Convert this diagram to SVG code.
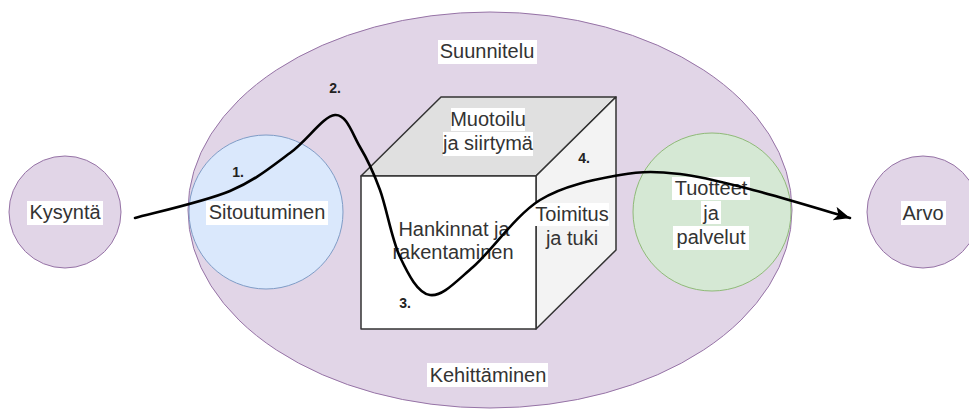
<svg xmlns="http://www.w3.org/2000/svg" width="969" height="412" viewBox="0 0 969 412">
<defs>
<style>
.purple{fill:#e1d5e7;stroke:#9673a6;stroke-width:1}
.blue{fill:#dae8fc;stroke:#7f9cc6;stroke-width:1}
.green{fill:#d5e8d4;stroke:#8fba78;stroke-width:1}
.cube{stroke:#333333;stroke-width:1.5;stroke-linejoin:round}
.t{font-family:"Liberation Sans",Arial,sans-serif;font-size:20px;fill:#333333;text-anchor:middle}
.n{font-family:"Liberation Sans",Arial,sans-serif;font-size:14px;font-weight:bold;fill:#222222;text-anchor:middle}
.bg{fill:#ffffff}
.flow{fill:none;stroke:#000000;stroke-width:2.6;stroke-linecap:round}
</style>
<marker id="arrow" markerUnits="userSpaceOnUse" markerWidth="18" markerHeight="16" refX="16" refY="7" orient="auto">
<path d="M0,0 L16,7 L0,14 L4,7 Z" fill="#000000"/>
</marker>
</defs>
<rect width="969" height="412" fill="#ffffff"/>

<g id="outer">
<ellipse class="purple" cx="490" cy="210" rx="302" ry="198"/>
<rect class="bg" x="438" y="40" width="99" height="24"/>
<text class="t" x="487" y="58">Suunnitelu</text>
<rect class="bg" x="427" y="363" width="121" height="24"/>
<text class="t" x="488" y="382">Kehittäminen</text>
</g>

<g id="kysynta">
<circle class="purple" cx="65" cy="212" r="56"/>
<rect class="bg" x="27" y="201" width="76" height="24"/>
<text class="t" x="65" y="219">Kysyntä</text>
</g>

<g id="sitoutuminen">
<circle class="blue" cx="266" cy="212" r="77"/>
<rect class="bg" x="206" y="201" width="122" height="24"/>
<text class="t" x="267" y="219">Sitoutuminen</text>
</g>

<g id="tuotteet">
<circle class="green" cx="712" cy="212" r="79"/>
<rect class="bg" x="672" y="177" width="78" height="23"/>
<text class="t" x="711" y="195">Tuotteet</text>
<rect class="bg" x="701" y="201" width="20" height="23"/>
<text class="t" x="711" y="219.5">ja</text>
<rect class="bg" x="673" y="226" width="76" height="24"/>
<text class="t" x="711" y="244">palvelut</text>
</g>

<g id="arvo">
<circle class="purple" cx="923" cy="212" r="56"/>
<rect class="bg" x="901" y="201" width="45" height="24"/>
<text class="t" x="923" y="220">Arvo</text>
</g>

<g id="cube">
<polygon class="cube" fill="#e0e0e0" points="361,176 441,97 616,97 536,176"/>
<polygon class="cube" fill="#f3f3f3" points="536,176 616,97 616,250 536,329"/>
<rect class="cube" fill="#ffffff" x="361" y="176" width="175" height="153"/>
<rect class="bg" x="451" y="108" width="74" height="23"/>
<text class="t" x="488" y="126">Muotoilu</text>
<rect class="bg" x="443" y="132" width="90" height="24"/>
<text class="t" x="488" y="150">ja siirtymä</text>
<text class="t" x="454" y="236">Hankinnat ja</text>
<text class="t" x="453" y="259">rakentaminen</text>
<rect class="bg" x="535" y="203" width="74" height="23"/>
<text class="t" x="572" y="221">Toimitus</text>
<text class="t" x="572" y="245">ja tuki</text>
</g>

<g id="numbers">
<text class="n" x="238" y="177">1.</text>
<text class="n" x="335" y="93">2.</text>
<text class="n" x="405" y="308">3.</text>
<text class="n" x="584" y="163">4.</text>
</g>

<g id="connectors">
<path class="flow" marker-end="url(#arrow)" d="M135,218 C150.8,213.5 204.2,201.8 230,191 C255.8,180.2 272.5,165.7 290,153 C307.5,140.3 323.3,116 335,115 C346.7,114 352.5,134.5 360,147 C367.5,159.5 373.3,171.7 380,190 C386.7,208.3 391.7,239.5 400,257 C408.3,274.5 417.8,293.3 430,295 C442.2,296.7 454.7,282.8 473,267 C491.3,251.2 515.5,215.3 540,200 C564.5,184.7 596.7,179.3 620,175 C643.3,170.7 657.8,171.5 680,174 C702.2,176.5 724.7,182.7 753,190 C781.3,197.3 833.8,213.3 850,218"/>
</g>
</svg>
